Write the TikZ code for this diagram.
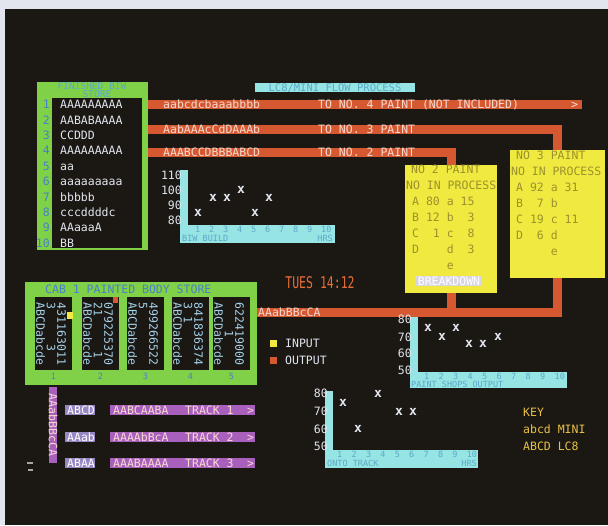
\documentclass[tikz,border=0pt]{standalone}
\usepackage{fontspec}
\setmonofont{DejaVu Sans Mono}
\usepackage{tikz}
\usetikzlibrary{positioning}
\definecolor{paper}{RGB}{226,228,238}
\definecolor{crtbg}{RGB}{27,23,18}
\definecolor{crtgreen}{RGB}{128,208,72}
\definecolor{crtred}{RGB}{214,88,48}
\definecolor{crtyellow}{RGB}{240,234,64}
\definecolor{crtcyan}{RGB}{150,228,228}
\definecolor{crtpurple}{RGB}{168,96,188}
\definecolor{crtlav}{RGB}{150,135,195}
\definecolor{crtpale}{RGB}{215,212,228}
\definecolor{crtwhite}{RGB}{225,230,240}
\definecolor{crtpink}{RGB}{245,218,208}
\definecolor{crtblue}{RGB}{70,130,200}
\definecolor{crtolive}{RGB}{155,145,45}
\definecolor{crtteal}{RGB}{90,170,200}
\definecolor{crtcol}{RGB}{165,210,235}
\definecolor{crtgold}{RGB}{232,195,70}
\definecolor{crtorange}{RGB}{232,110,55}
\newcommand{\crtfont}{\ttfamily\fontsize{11.5}{14}\selectfont}
\newcommand{\crtsmall}{\ttfamily\fontsize{8.5}{10}\selectfont}

\begin{document}
\begin{tikzpicture}[x=1pt, y=-1pt,
    box/.style={inner sep=0pt, outer sep=0pt},
    txt/.style={font=\crtfont, inner sep=0pt, text height=8.5pt, text depth=0pt},
    lbl/.style={txt, anchor=west},
    hrs/.style={txt, font=\crtsmall, text height=6pt, text=crtteal, anchor=west},
    xpt/.style={txt, font=\ttfamily\bfseries\fontsize{13}{14}\selectfont, text height=6.5pt, text=crtwhite},
    flow/.style={line width=9pt, crtred},
    coltxt/.style={font=\ttfamily\fontsize{11.5}{10.5}\selectfont, inner sep=0pt, align=left, rotate=-90, text=crtcol}]

    \useasboundingbox (0,0) rectangle (608,525);
    % Screen
    \fill[paper] (0,0) rectangle (608,525);
    \fill[crtbg] (5,9) rectangle (608,525);

    % Title
    \node[box, fill=crtcyan, minimum width=160pt, minimum height=9pt, anchor=north west] (banner) at (255,83) {};
    \node[txt, font=\ttfamily\fontsize{10.5}{12}\selectfont, text height=7pt, text=crtteal] (bannertxt) at (banner) {LC8/MINI FLOW PROCESS};

    % BIW store
    \node[box, fill=crtgreen, minimum width=111pt, minimum height=168pt, anchor=north west] (store) at (37,82) {};
    \node[box, fill=crtbg, minimum width=90pt, minimum height=150pt, anchor=north west] (storein) at (52,98) {};
    \node[txt, font=\ttfamily\fontsize{9.5}{10}\selectfont, text height=6.5pt, text=crtteal] (storettl) at (92,86) {FINISHED BIW};
    \node[txt, font=\ttfamily\fontsize{9.5}{10}\selectfont, text height=6.5pt, text=crtteal] (storettlb) at (97,94) {STORE};
    \foreach \s [count=\i] in {AAAAAAAAA,AABABAAAA,CCDDD,AAAAAAAAA,aa,aaaaaaaaa,bbbbb,cccddddc,AAaaaA,BB} {
        \node[lbl, text=crtwhite] (row\i) at (60,89+15.4*\i) {\s};
        \node[txt, anchor=east, text=crtblue] (rowno\i) at (50,89+15.4*\i) {\i};
    }

    % Paint shops
    \node[box, fill=crtyellow, minimum width=92pt, minimum height=128pt, anchor=north west] (no2) at (405,165) {};
    \node[box, fill=crtyellow, minimum width=95pt, minimum height=128pt, anchor=north west] (no3) at (510,150) {};

    % Flow lines
    \coordinate (end4) at (582,104);
    \draw[flow] (store.east |- end4) -- (end4);
    \draw[flow] (store.east |- 0,129) -| (no3.north);
    \draw[flow] (store.east |- 0,152) -| (no2.north);

    \node[lbl, text=crtpink] (mix4) at (163,104) {aabcdcbaaabbbb};
    \node[lbl, text=crtpink] (to4) at (318,104) {TO NO. 4 PAINT (NOT INCLUDED)};
    \node[lbl, text=crtpink] (arr4) at (571,104) {>};
    \node[lbl, text=crtpink] (mix3) at (163,129) {AabAAAcCdDAAAb};
    \node[lbl, text=crtpink] (to3) at (318,129) {TO NO. 3 PAINT};
    \node[lbl, text=crtpink] (mix2) at (163,152) {AAABCCDBBBABCD};
    \node[lbl, text=crtpink] (to2) at (318,152) {TO NO. 2 PAINT};

    % Paint shop contents
    \foreach \s/\x [count=\i] in {NO 2 PAINT/411,NO IN PROCESS/406,A 80 a 15/412,B 12 b~~3/412,C~~1 c~~8/412,D~~~~d~~3/412,~~~~~e/412}
        \node[lbl, text=crtolive] (ptwo\i) at (\x,153+16*\i) {\s};
    \foreach \s/\x [count=\i] in {NO 3 PAINT/516,NO IN PROCESS/511,A 92 a 31/516,B~~7 b/516,C 19 c 11/516,D~~6 d/516,~~~~~e/516}
        \node[lbl, text=crtolive] (pthree\i) at (\x,139+16*\i) {\s};
    \node[txt, fill=crtpale, text=white, inner xsep=1.5pt, inner ysep=0.5pt] (brk) at (449,281) {BREAKDOWN};

    % Painted body store
    \node[box, fill=crtgreen, minimum width=232pt, minimum height=103pt, anchor=north west] (cab) at (25,282) {};
    \node[lbl, text=crtblue] (cabttl) at (45,289) {CAB 1 PAINTED BODY STORE};
    \foreach \x/\n/\u/\t in {35/1/431163011/3~~~~~3~~, 82/2/079225370/21~~~~~1~, 127/3/499266522/5~~~~~~~~,
                             172/4/841836374/3~1~~~~~~, 213/5/622419000/~~~~1~~~~} {
        \node[box, fill=crtbg, minimum width=37pt, minimum height=73pt, anchor=north west] (col\n) at (\x,297) {};
        \node[coltxt] (coltxt\n) at (\x+16,334) {\u\\\t\\ABCDabcde};
        \node[txt, font=\crtsmall, text height=6pt, text=crtblue] (colno\n) at (\x+18.5,376) {\n};
    }
    \fill[crtyellow] (67,312) rectangle (73,319);
    \fill[crtred] (113,297) rectangle (118,303);

    % Output
    \draw[flow] (no3.south) |- (cab.east |- 0,312);
    \draw[flow] (no2.south) -- (no2.south |- 0,312);
    \node[lbl, text=crtpink] (mixout) at (258,312) {AAabBBcCA};

    \node[font=\crtfont, inner sep=0pt, text=crtorange] (clock) at (320,283) {\scalebox{1}[1.4]{TUES 14:12}};

    % Legend
    \node[box, fill=crtyellow, minimum size=7pt] (insq) at (273.5,343.5) {};
    \node[lbl, text=crtwhite, right=8pt of insq] (intxt) {INPUT};
    \node[box, fill=crtred, minimum size=7pt] (outsq) at (273.5,360) {};
    \node[lbl, text=crtwhite, right=8pt of outsq] (outtxt) {OUTPUT};

    % BIW build chart
    \fill[crtcyan] (180,170) rectangle (188,243);
    \fill[crtcyan] (180,225) rectangle (335,243);
    \foreach \v/\y in {110/175,100/190,90/205,80/220}
        \node[txt, anchor=east, text=crtwhite] (ca\v) at (182,\y) {\v};
    \foreach \i in {1,...,10}
        \node[hrs] (cah\i) at (195+14*\i-14,229.5) {\i};
    \node[hrs] (catitle) at (182,238.5) {BIW BUILD};
    \node[hrs, anchor=east] (caunit) at (333,238.5) {HRS};
    \foreach \x/\y [count=\k] in {198/213,213/198,227/198,241/190,255/213,269/198}
        \node[xpt] (cax\k) at (\x,\y) {x};

    % Paint shops output chart
    \fill[crtcyan] (410,317) rectangle (418,388);
    \fill[crtcyan] (410,372) rectangle (567,388);
    \foreach \v/\y in {80/319,70/337,60/353,50/370}
        \node[txt, anchor=east, text=crtwhite] (cb\v) at (412,\y) {\v};
    \foreach \i in {1,...,10}
        \node[hrs] (cbh\i) at (424+14.5*\i-14.5,376.5) {\i};
    \node[hrs] (cbtitle) at (411,384.5) {PAINT SHOPS OUTPUT};
    \foreach \x/\y [count=\k] in {428/328,442/337,456/328,469/344,483/344,498/337}
        \node[xpt] (cbx\k) at (\x,\y) {x};

    % Onto track chart
    \fill[crtcyan] (325,391) rectangle (333,468);
    \fill[crtcyan] (325,450) rectangle (478,468);
    \foreach \v/\y in {80/393,70/411,60/429,50/446}
        \node[txt, anchor=east, text=crtwhite] (cc\v) at (328,\y) {\v};
    \foreach \i in {1,...,10}
        \node[hrs] (cch\i) at (337+14.4*\i-14.4,454.5) {\i};
    \node[hrs] (cctitle) at (327,463.5) {ONTO TRACK};
    \node[hrs, anchor=east] (ccunit) at (477,463.5) {HRS};
    \foreach \x/\y [count=\k] in {343/403,378/394,358/429,399/412,413/412}
        \node[xpt] (ccx\k) at (\x,\y) {x};

    % Key
    \node[lbl, text=crtgold] (key) at (523,412) {KEY};
    \node[lbl, text=crtgold] (keymini) at (523,429) {abcd MINI};
    \node[lbl, text=crtgold] (keylc) at (523,446) {ABCD LC8};

    % Tracks
    \node[box, fill=crtpurple, minimum width=8pt, minimum height=76pt, anchor=north west] (feed) at (49,387) {};
    \node[txt, rotate=-90, text=crtpink] (feedtxt) at (feed) {AAabBBcCA};
    \foreach \i/\y/\a/\b in {1/410/ABCD/AABCAABA, 2/437/AAab/AAAAbBcA, 3/463/ABAA/AAABAAAA} {
        \node[box, fill=crtlav, minimum width=30pt, minimum height=10pt, anchor=west] (tag\i) at (65,\y) {};
        \node[lbl, text=white] (tagtxt\i) at (67,\y) {\a};
        \node[box, fill=crtpurple, minimum width=145pt, minimum height=10pt, anchor=west] (trk\i) at (110,\y) {};
        \node[lbl, text=crtpink] (trkmix\i) at (113,\y) {\b};
        \node[lbl, text=crtpink] (trkname\i) at (185,\y) {TRACK \i};
        \node[lbl, text=crtpink] (trkend\i) at (247,\y) {>};
    }
    \draw[gray!70, line width=1.2pt] (27,463) -- (33,463);
    \draw[gray!70, line width=1.2pt] (28,470) -- (33,470);
\end{tikzpicture}
\end{document}
